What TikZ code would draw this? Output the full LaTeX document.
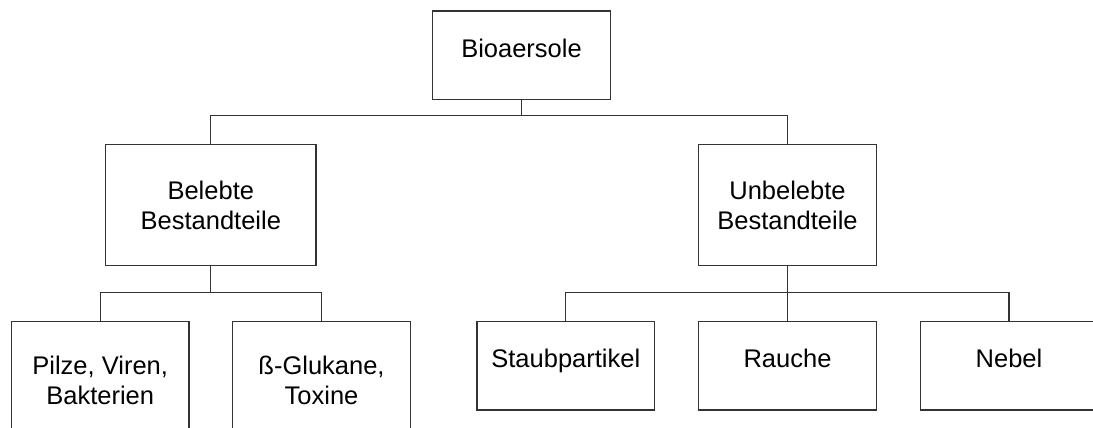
\documentclass[tikz,border=0pt]{standalone}
\usepackage{fontspec}
\setmainfont{Liberation Sans}
\begin{document}
\begin{tikzpicture}[x=0.5pt, y=-0.5pt,
	box/.style={draw=black!80, line width=0.6pt, minimum width=88.8pt, inner sep=0pt, font=\fontsize{12.75pt}{15pt}\selectfont},
	einzeilig/.style={box, minimum height=44.35pt, text height=9.13pt, text depth=7pt},
	zweizeilig/.style={box, minimum height=60.7pt, align=center},
	linie/.style={draw=black!80, line width=0.6pt}]

	\useasboundingbox (0,0) rectangle (1093,428);

	%Wurzel
	\node[einzeilig] (bio) at (521.5, 55.3) {Bioaersole};
	%zweite Ebene
	\node[zweizeilig, minimum width=105.2pt] (bel) at (210.8, 205) {Belebte\\Bestandteile};
	\node[zweizeilig] (unb) at (787.5, 205) {Unbelebte\\Bestandteile};
	%dritte Ebene, belebt
	\node[zweizeilig, minimum height=58.5pt] (pil) at (100.2, 380.2) {Pilze, Viren,\\Bakterien};
	\node[zweizeilig, minimum height=58.5pt] (glu) at (321.5, 380.2) {ß-Glukane,\\Toxine};
	%dritte Ebene, unbelebt
	\node[einzeilig] (sta) at (565.8, 365.7) {Staubpartikel};
	\node[einzeilig] (rau) at (787.5, 365.7) {Rauche};
	\node[einzeilig] (neb) at (1009, 365.7) {Nebel};

	%Verbindungen
	\coordinate (s1) at (521.5, 115.7);
	\coordinate (s2) at (210.8, 292.7);
	\coordinate (s3) at (787.5, 292.7);
	\draw[linie] (bio.south) -- (s1);
	\draw[linie] (s1) -| (bel.north);
	\draw[linie] (s1) -| (unb.north);
	\draw[linie] (bel.south) -- (s2) -| (pil.north);
	\draw[linie] (s2) -| (glu.north);
	\draw[linie] (unb.south) -- (s3) -- (rau.north);
	\draw[linie] (s3) -| (sta.north);
	\draw[linie] (s3) -| (neb.north);
\end{tikzpicture}
\end{document}
